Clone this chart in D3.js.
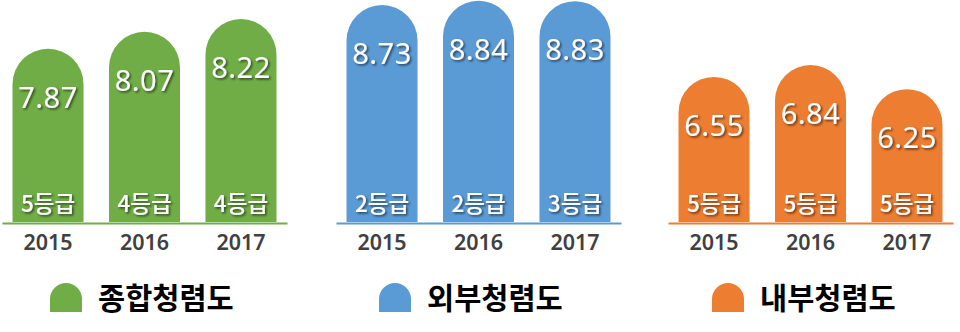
<!DOCTYPE html>
<html>
<head>
<meta charset="utf-8">
<script src="https://cdn.jsdelivr.net/npm/d3@7"></script>
<style>
  html, body { margin: 0; padding: 0; background: #fff; }
  svg { display: block; }
</style>
</head>
<body>
<svg id="chart" width="960" height="332"></svg>
<script>
// ---- data ----
const years = ["2015", "2016", "2017"];
const seriesNames = ["종합청렴도", "외부청렴도", "내부청렴도"];
const totalScores = [7.87, 8.07, 8.22];
const externalScores = [8.73, 8.84, 8.83];
const internalScores = [6.55, 6.84, 6.25];
const totalGrades = ["5등급", "4등급", "4등급"];
const externalGrades = ["2등급", "2등급", "3등급"];
const internalGrades = ["5등급", "5등급", "5등급"];

// ---- layout ----
const baseY = 222;
const panelW = 285;
const panels = [
  { name: seriesNames[0], values: totalScores, grades: totalGrades, x0: 2, color: "#70AD47", domain: [5.82, 8.446], legendX: 50 },
  { name: seriesNames[1], values: externalScores, grades: externalGrades, x0: 336, color: "#5B9BD5", domain: [3.17, 8.859], legendX: 379 },
  { name: seriesNames[2], values: internalScores, grades: internalGrades, x0: 668, color: "#ED7D31", domain: [2.984, 8.439], legendX: 712 }
];

const svg = d3.select("#chart");
const defs = svg.append("defs");
const f = defs.append("filter").attr("id", "shadow").attr("x", "-20%").attr("y", "-20%").attr("width", "140%").attr("height", "140%");
f.append("feDropShadow").attr("dx", 1.5).attr("dy", 1.5).attr("stdDeviation", 0.8)
  .attr("flood-color", "#000").attr("flood-opacity", 0.6);

function archBar(x, w, top, bottom) {
  const r = w / 2;
  return `M${x},${bottom} V${top + r} A${r},${r} 0 0 1 ${x + w},${top + r} V${bottom} Z`;
}

panels.forEach(p => {
  const x = d3.scaleBand().domain(years).range([p.x0, p.x0 + panelW]).paddingInner(0.264).paddingOuter(0.109);
  const y = d3.scaleLinear().domain(p.domain).range([baseY, 0]);
  const g = svg.append("g");
  const rows = years.map((yr, i) => ({ yr, v: p.values[i], grade: p.grades[i] }));

  g.selectAll("path.bar").data(rows).enter().append("path")
    .attr("class", "bar")
    .attr("d", d => archBar(x(d.yr), x.bandwidth(), y(d.v), baseY))
    .attr("fill", p.color);

  // axis line
  const axis = d3.axisBottom(x).tickSize(0).tickPadding(10);
  const ag = g.append("g").attr("transform", `translate(0,${baseY + 1})`).call(axis);
  ag.select(".domain").attr("stroke", p.color).attr("stroke-width", 2);
  ag.selectAll("text")
    .attr("font-family", "'Noto Sans', 'Noto Sans CJK KR', sans-serif")
    .attr("font-weight", 600)
    .attr("font-size", 21.5)
    .attr("fill", "#404040")
    .attr("dy", null)
    .attr("y", 27);

  g.selectAll("text.val").data(rows).enter().append("text")
    .attr("class", "val")
    .attr("x", d => x(d.yr) + x.bandwidth() / 2)
    .attr("y", d => y(d.v) + 59)
    .attr("text-anchor", "middle")
    .attr("font-family", "'Noto Sans', sans-serif")
    .attr("font-size", 29)
    .attr("letter-spacing", 0.5)
    .attr("fill", "#fff")
    .attr("filter", "url(#shadow)")
    .text(d => d.v.toFixed(2));

  g.selectAll("text.grade").data(rows).enter().append("text")
    .attr("class", "grade")
    .attr("x", d => x(d.yr) + x.bandwidth() / 2)
    .attr("y", 212)
    .attr("text-anchor", "middle")
    .attr("font-family", "'Noto Sans CJK KR', 'Noto Sans', sans-serif")
    .attr("font-weight", 500)
    .attr("font-size", 22.5)
    .attr("fill", "#fff")
    .attr("filter", "url(#shadow)")
    .text(d => d.grade);

  // legend
  const lg = svg.append("g");
  lg.append("path")
    .attr("d", archBar(p.legendX, 32, 283, 312))
    .attr("fill", p.color);
  lg.append("text")
    .attr("x", p.legendX + 48)
    .attr("y", 309)
    .attr("font-family", "'Noto Sans CJK KR', sans-serif")
    .attr("font-weight", 700)
    .attr("font-size", 29.5)
    .attr("fill", "#000")
    .text(p.name);
});
</script>
</body>
</html>
